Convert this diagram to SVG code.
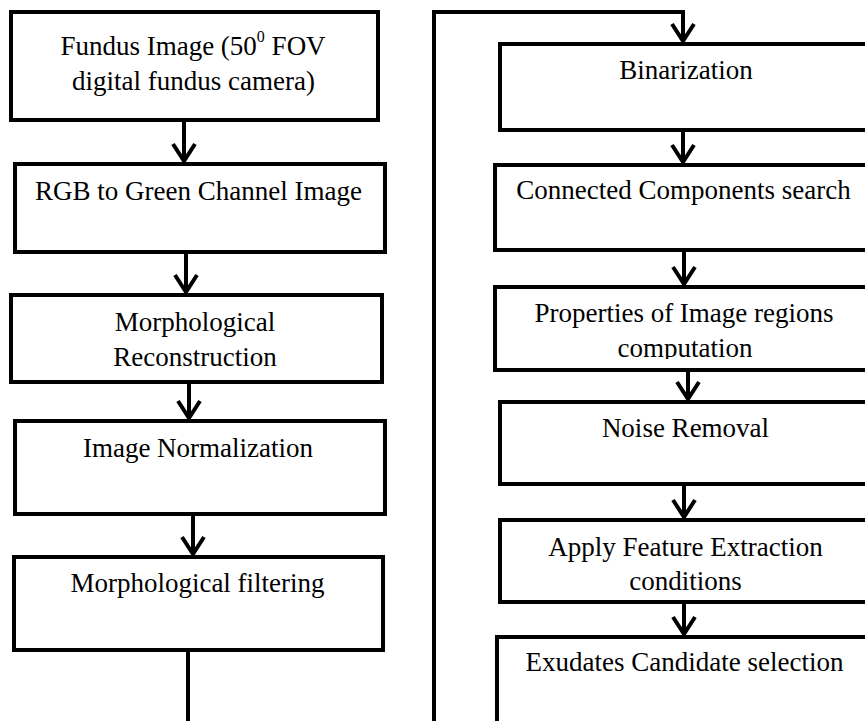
<svg xmlns="http://www.w3.org/2000/svg" width="865" height="721" viewBox="0 0 865 721">
<style>
.box{fill:#fff;stroke:#000;stroke-width:4}
.t{font-family:"Liberation Serif","Times New Roman",serif;font-size:27px;fill:#000;text-anchor:middle}
.c{fill:none;stroke:#000;stroke-width:4}
</style>
<defs>
<marker id="ah" markerUnits="userSpaceOnUse" orient="auto" markerWidth="40" markerHeight="40" refX="0" refY="0" viewBox="-20 -20 40 40" overflow="visible">
<path d="M-17,-11 L0,0 L-17,11" fill="none" stroke="#000" stroke-width="4" stroke-linejoin="miter"/>
</marker>
<clipPath id="clipProps"><rect x="495" y="287" width="380" height="72"/></clipPath>
</defs>
<rect width="865" height="721" fill="#fff"/>
<g id="connectors">
<path class="c" d="M184,122 V161" marker-end="url(#ah)"/>
<path class="c" d="M186,252 V292" marker-end="url(#ah)"/>
<path class="c" d="M189,382 V418" marker-end="url(#ah)"/>
<path class="c" d="M193,514 V554" marker-end="url(#ah)"/>
<path class="c" d="M188,650 V725"/>
<path class="c" d="M434,725 V12 H683 V41" marker-end="url(#ah)"/>
<path class="c" d="M683,130 V162" marker-end="url(#ah)"/>
<path class="c" d="M684,250 V284" marker-end="url(#ah)"/>
<path class="c" d="M688,370 V399" marker-end="url(#ah)"/>
<path class="c" d="M684,484 V517" marker-end="url(#ah)"/>
<path class="c" d="M684,602 V634" marker-end="url(#ah)"/>
</g>
<g id="fundus">
<rect class="box" x="11" y="12" width="367" height="108"/>
<text class="t" x="193" y="55"><tspan>Fundus Image (50</tspan><tspan font-size="16" dy="-13">0</tspan><tspan dy="13"> FOV</tspan></text>
<text class="t" x="193.5" y="90">digital fundus camera)</text>
</g>
<g id="rgb">
<rect class="box" x="15" y="164" width="370" height="88"/>
<text class="t" x="198.5" y="200">RGB to Green Channel Image</text>
</g>
<g id="morphrec">
<rect class="box" x="11" y="295" width="371" height="87"/>
<text class="t" x="195" y="331">Morphological</text>
<text class="t" x="195" y="366">Reconstruction</text>
</g>
<g id="norm">
<rect class="box" x="15" y="421" width="370" height="93"/>
<text class="t" x="198" y="457">Image Normalization</text>
</g>
<g id="morphfilt">
<rect class="box" x="14" y="557" width="369" height="93"/>
<text class="t" x="197.5" y="592">Morphological filtering</text>
</g>
<g id="binar">
<rect class="box" x="500" y="44" width="380" height="86"/>
<text class="t" x="686" y="79">Binarization</text>
</g>
<g id="connected">
<rect class="box" x="495" y="165" width="385" height="85"/>
<text class="t" x="683.5" y="199">Connected Components search</text>
</g>
<g id="props">
<rect class="box" x="495" y="287" width="385" height="83"/>
<text class="t" x="684" y="322">Properties of Image regions</text>
<text class="t" x="685" y="357" clip-path="url(#clipProps)">computation</text>
</g>
<g id="noise">
<rect class="box" x="500" y="402" width="380" height="82"/>
<text class="t" x="685.5" y="437">Noise Removal</text>
</g>
<g id="feature">
<rect class="box" x="500" y="520" width="380" height="82"/>
<text class="t" x="685.5" y="556">Apply Feature Extraction</text>
<text class="t" x="685.5" y="590">conditions</text>
</g>
<g id="exudates">
<rect class="box" x="497" y="637" width="383" height="100"/>
<text class="t" x="684.5" y="671">Exudates Candidate selection</text>
</g>
</svg>
